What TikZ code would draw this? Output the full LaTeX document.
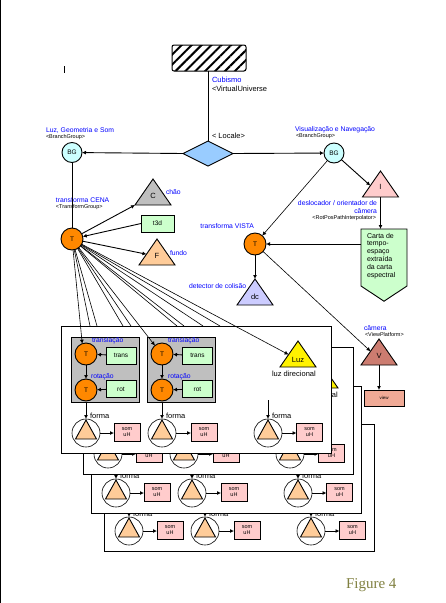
\documentclass[tikz,border=0pt]{standalone}
\usepackage{fontspec}
\setmainfont{Liberation Sans}
\newfontfamily\figfont{Liberation Serif}
\definecolor{hiblue}{RGB}{153, 204, 255}
\definecolor{hicyan}{RGB}{204, 255, 255}
\definecolor{hiorange}{RGB}{255, 136, 0}
\definecolor{higreen}{RGB}{204, 255, 204}
\definecolor{hipink}{RGB}{255, 204, 204}
\definecolor{hipeach}{RGB}{255, 204, 153}
\definecolor{hililac}{RGB}{204, 204, 255}
\definecolor{hibrick}{RGB}{204, 124, 112}
\definecolor{hisalmon}{RGB}{240, 170, 150}
\definecolor{hiolive}{RGB}{128, 128, 64}
\usetikzlibrary{shapes, shapes.geometric, shapes.symbols, arrows.meta, patterns.meta}

\begin{document}
\begin{tikzpicture}[
  x=1pt, y=-1pt,
  line width=0.9pt,
  every node/.style={inner sep=0pt, outer sep=0pt},
  tag/.style={text=blue, font=\fontsize{6.8}{8}\selectfont, anchor=west},
  tagblack/.style={font=\fontsize{7.5}{8}\selectfont, anchor=west},
  tiny/.style={font=\fontsize{5.5}{6}\selectfont, anchor=west},
  ball/.style={circle, draw, minimum size=22pt, font=\fontsize{6.5}{7}\selectfont},
  xform/.style={ball, fill=hiorange},
  branch/.style={ball, fill=hicyan, minimum size=20pt},
  tbox/.style={rectangle, draw, fill=higreen, font=\fontsize{6.5}{7}\selectfont},
  sbox/.style={rectangle, draw, fill=hipink, minimum width=26pt, minimum height=18pt, align=center, font=\fontsize{5.5}{6.5}\selectfont},
  tri/.style={isosceles triangle, isosceles triangle stretches, shape border rotate=90, draw, anchor=apex, minimum width=36pt, minimum height=26pt, font=\fontsize{7.5}{8}\selectfont},
  conn/.style={-{Latex[length=4pt,width=4pt]}},
  fan/.style={line width=0.6pt},
  panel/.style={rectangle, draw, fill=white, minimum width=270pt, minimum height=127pt, anchor=north west},
  ggroup/.style={rectangle, draw, fill=black!25, minimum width=68pt, minimum height=65pt, anchor=north west}
]
  \useasboundingbox (0,0) rectangle (445,603);
  \draw[line width=1pt] (0.5,0) -- (0.5,603);
  \node[rectangle, fill=black, minimum width=1.5pt, minimum height=7pt] (mark) at (64.5,69) {};

  \node[rectangle, draw, rounded corners=2pt, minimum width=74pt, minimum height=26pt, line width=1pt,
        pattern={Lines[angle=45, distance=7pt, line width=2pt]}] (univ) at (209,58) {};
  \node[tag, font=\fontsize{7.5}{8}\selectfont] (lblcub) at (212,79.5) {Cubismo};
  \node[tagblack] (lblvu) at (212,88.5) {<VirtualUniverse};
  \node[tagblack] (lblloc) at (212,135.5) {< Locale>};
  \node[diamond, draw, fill=hiblue, minimum width=50pt, minimum height=25pt, aspect=2] (locale) at (208,153.5) {};

  \node[branch] (bgl) at (72,152.5) {BG};
  \node[tag] (lblluz) at (46,130.5) {Luz, Geometria e Som};
  \node[tiny] (lblbgl) at (46,137) {<BranchGroup>};
  \node[branch] (bgr) at (334,153) {BG};
  \node[tag] (lblvis) at (295,129.5) {Visualização e Navegação};
  \node[tiny] (lblbgr) at (296,136) {<BranchGroup>};

  \node[xform] (tcena) at (72,239) {T};
  \node[tag] (lbltc) at (56,200.5) {transforma CENA};
  \node[tiny] (lbltg) at (56,207.5) {<TransformGroup>};
  \node[tri, fill=black!25] (tric) at (153,179) {C};
  \node[tag] (lblchao) at (166,192.5) {chão};
  \node[tbox, minimum width=33pt, minimum height=17pt] (t3d) at (157.5,223.5) {t3d};
  \node[tri, fill=hipeach] (trif) at (157,239) {F};
  \node[tag] (lblfun) at (170,253.5) {fundo};

  \node[xform] (tvista) at (255,244) {T};
  \node[tag, anchor=east] (lbltv) at (254,226.5) {transforma VISTA};
  \node[tri, fill=hipink] (trii) at (380.5,171) {I};
  \node[tag, anchor=east, align=right] (lbldes) at (377,207) {deslocador / orientador de\\câmera};
  \node[tiny, anchor=east] (lblrot) at (376,218) {<RotPosPathInterpolator>};
  \node[signal, signal to=south, signal pointer angle=113, draw, fill=higreen, minimum width=46pt, minimum height=57pt, anchor=north] (carta) at (384,229) {};
  \node[tagblack, align=left, anchor=north west, font=\fontsize{7}{7.9}\selectfont] (lblcar) at (367,233) {Carta de\\tempo-\\espaço\\extraída\\da carta\\espectral};
  \node[tri, fill=hililac] (tridc) at (255,279) {dc};
  \node[tag] (lbldet) at (189,286) {detector de colisão};
  \node[tri, fill=hibrick] (triv) at (379,339) {V};
  \node[tag] (lblcam) at (364,328) {câmera};
  \node[tiny] (lblvp) at (365,334.5) {<ViewPlatform>};
  \node[rectangle, draw, fill=hisalmon, minimum width=40pt, minimum height=16pt, font=\fontsize{4.5}{5}\selectfont] (view) at (384,398) {view};

  \draw (univ.south -| locale) -- (locale.north);
  \draw[conn] (locale.west) -- (bgl);
  \draw[conn] (locale.east) -- (bgr);
  \draw (bgl) -- (tcena);
  \draw[conn] (bgr) -- (trii.170);
  \draw[conn, fan] (bgr) -- (tvista);
  \draw[conn] (tcena) -- (tric.left corner);
  \draw[conn] (t3d.west) -- (tcena);
  \draw[conn] (tcena) -- (trif.170);
  \draw[conn] (trii.south) -- (carta.north -| trii.south);
  \draw[conn] (carta.west |- tvista) -- (tvista);
  \draw[conn] (tvista) -- (tridc.apex);
  \draw[conn, fan] (tvista) -- (triv.150);
  \draw[conn] (triv.south) -- (view.north -| triv.south);

  \foreach \fx in {90,97,123,131,177,184,203,220} {
    \coordinate (f\fx) at (\fx,326);
    \draw[fan] (tcena) -- (f\fx);
  }

  \foreach \idx/\dx/\dy in {4/43/98, 3/30/60, 2/22/21, 1/0/0} {
    \begin{scope}[shift={(\dx,\dy)}, name prefix=p\idx-]
      \node[panel] (frame) at (61,326) {};
      \ifnum\idx<3
        \node[tri, fill=yellow] (luz) at (298,341) {Luz};
        \node[tagblack] (lblluz) at (272,374) {luz direcional};
      \fi
      \foreach \cname/\cx/\bx in {sa/86/127, sb/162/204, sc/268/309.5} {
        \coordinate (f\cname) at (\cx,400);
        \node[circle, draw, line width=0.6pt, minimum size=28pt] (c\cname) at (\cx,433) {};
        \node[tri, fill=hipeach, minimum width=21pt, minimum height=19pt] (s\cname) at (\cx,420) {};
        \node[sbox] (b\cname) at (\bx,432) {som\\uH};
        \draw[conn] (f\cname) -- (c\cname);
        \draw[conn] (c\cname) -- (b\cname.west |- c\cname);
        \ifnum\idx=2\else
          \node[tagblack] (l\cname) at (\cx+4,416) {forma};
        \fi
      }
    \end{scope}
  }

  \begin{scope}[name prefix=p1-]
    \node[ggroup] (ga) at (71,337) {};
    \node[ggroup] (gb) at (147,337) {};
    \node[xform] (ta) at (86,354) {T};
    \node[xform] (tb) at (86,390) {T};
    \node[xform] (tc) at (162,354) {T};
    \node[xform] (td) at (162,390) {T};
    \node[tbox, minimum width=30pt, minimum height=17pt] (transa) at (121,355.5) {trans};
    \node[tbox, minimum width=30pt, minimum height=17pt] (rota) at (121,389) {rot};
    \node[tbox, minimum width=30pt, minimum height=17pt] (transb) at (197.5,355.5) {trans};
    \node[tbox, minimum width=30pt, minimum height=17pt] (rotb) at (197.5,389) {rot};
    \node[tag] (lblta) at (92,341) {translação};
    \node[tag] (lblra) at (91,377) {rotação};
    \node[tag] (lbltb) at (168,341) {translação};
    \node[tag] (lblrb) at (168,377) {rotação};
    \draw[conn] (transa) -- (ta);
    \draw[conn] (rota) -- (tb);
    \draw[conn] (transb) -- (tc);
    \draw[conn] (rotb) -- (td);
    \draw[conn] (ta) -- (tb);
    \draw[conn] (tc) -- (td);
  \end{scope}

  \draw[conn, fan] (tcena) -- (p1-ta.110);
  \draw[conn, fan] (tcena) -- (p1-tc.130);
  \draw[conn, fan] (tcena) -- (p1-luz.150);

  \node[font=\fontsize{15}{16}\figfont, text=hiolive, anchor=west] (figlbl) at (346,585) {Figure 4};
\end{tikzpicture}
\end{document}
